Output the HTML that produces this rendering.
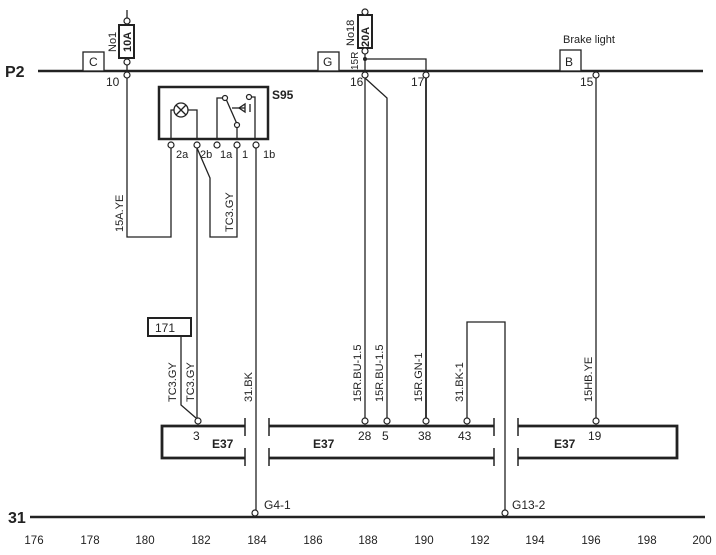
<!DOCTYPE html>
<html><head><style>
html,body{margin:0;padding:0;background:#fff;}
svg{display:block;font-family:"Liberation Sans",Arial,sans-serif;}
</style></head><body>
<svg width="716" height="555" viewBox="0 0 716 555" xmlns="http://www.w3.org/2000/svg">
<g stroke="#222" fill="none" stroke-width="1.3">
<line x1="38" y1="71" x2="703" y2="71" stroke-width="2.5"/>
<line x1="30" y1="517" x2="705" y2="517" stroke-width="2.5"/>
<rect x="83" y="52" width="21" height="19" fill="#fff"/>
<rect x="318" y="52" width="21" height="19" fill="#fff"/>
<rect x="560" y="50" width="21" height="21" fill="#fff"/>
<line x1="127" y1="10" x2="127" y2="25"/>
<rect x="119" y="25" width="15" height="33" stroke-width="2"/>
<line x1="127" y1="58" x2="127" y2="71"/>
<line x1="365" y1="10" x2="365" y2="15"/>
<rect x="358" y="15" width="14" height="33" stroke-width="2"/>
<line x1="365" y1="48" x2="365" y2="71"/>
<polyline points="365,59 426,59 426,71"/>
<polyline points="127,77 127,237 171,237 171,148"/>
<rect x="159" y="87" width="109" height="52" stroke-width="2.5"/>
<circle cx="181" cy="110" r="7"/>
<line x1="176" y1="105" x2="186" y2="115"/><line x1="186" y1="105" x2="176" y2="115"/>
<polyline points="171,139 171,110 174,110"/><polyline points="197,139 197,110 188,110"/>
<polyline points="217,139 217,98 225,98"/>
<line x1="226" y1="99" x2="237" y2="124"/>
<line x1="237" y1="127" x2="237" y2="139"/>
<polyline points="249,97 255,97 255,139"/>
<line x1="232" y1="108" x2="245" y2="108"/><polygon points="245,104 245,112 239,108"/><line x1="250" y1="104" x2="250" y2="112"/>
<line x1="197" y1="148" x2="197" y2="418"/>
<polyline points="197,148 210,178 210,237 237,237 237,148"/>
<line x1="256" y1="148" x2="256" y2="513"/>
<rect x="148" y="318" width="43" height="18" stroke-width="2"/>
<polyline points="181,336 181,405 196,418"/>
<line x1="365" y1="78" x2="365" y2="418"/>
<polyline points="365,78 387,98 387,418"/>
<line x1="426" y1="78" x2="426" y2="418" stroke-width="1.8"/>
<line x1="596" y1="78" x2="596" y2="418"/>
<polyline points="467,418 467,322 505,322 505,513"/>
<polyline points="245,426 162,426 162,458 245,458" stroke-width="2.8"/>
<line x1="245" y1="418" x2="245" y2="436" stroke-width="1.5"/><line x1="245" y1="448" x2="245" y2="466" stroke-width="1.5"/>
<line x1="269" y1="426" x2="494" y2="426" stroke-width="2.8"/>
<line x1="269" y1="458" x2="494" y2="458" stroke-width="2.8"/>
<line x1="269" y1="418" x2="269" y2="436" stroke-width="1.5"/><line x1="269" y1="448" x2="269" y2="466" stroke-width="1.5"/>
<line x1="494" y1="418" x2="494" y2="436" stroke-width="1.5"/><line x1="494" y1="448" x2="494" y2="466" stroke-width="1.5"/>
<polyline points="518,426 677,426 677,458 518,458" stroke-width="2.8"/>
<line x1="518" y1="418" x2="518" y2="436" stroke-width="1.5"/><line x1="518" y1="448" x2="518" y2="466" stroke-width="1.5"/>
</g>
<g stroke="#222" fill="#fff" stroke-width="1.2">
<circle cx="127" cy="21" r="3"/><circle cx="127" cy="62" r="3"/><circle cx="127" cy="75" r="3"/>
<circle cx="365" cy="12" r="3"/><circle cx="365" cy="51" r="3"/>
<circle cx="365" cy="75" r="3"/><circle cx="426" cy="75" r="3"/><circle cx="596" cy="75" r="3"/>
<circle cx="171" cy="145" r="3"/><circle cx="197" cy="145" r="3"/><circle cx="217" cy="145" r="3"/><circle cx="237" cy="145" r="3"/><circle cx="256" cy="145" r="3"/>
<circle cx="225" cy="98" r="2.5"/><circle cx="237" cy="125" r="2.5"/><circle cx="249" cy="97" r="2.5"/>
<circle cx="198" cy="421" r="3"/><circle cx="365" cy="421" r="3"/><circle cx="387" cy="421" r="3"/><circle cx="426" cy="421" r="3"/><circle cx="467" cy="421" r="3"/><circle cx="596" cy="421" r="3"/>
<circle cx="255" cy="513" r="3"/><circle cx="505" cy="513" r="3"/>
</g>
<circle cx="365" cy="59" r="2" fill="#222"/>
<g fill="#222" font-size="12">
<text x="5" y="77" font-size="16" font-weight="bold">P2</text>
<text x="8" y="523" font-size="16" font-weight="bold">31</text>
<text x="89" y="66">C</text><text x="323" y="66">G</text><text x="565" y="66">B</text>
<text x="563" y="43" font-size="11">Brake light</text>
<text x="106" y="86">10</text><text x="350" y="86">16</text><text x="411" y="86">17</text><text x="580" y="86">15</text>
<text x="272" y="99" font-weight="bold">S95</text>
<g font-size="11"><text x="176" y="158">2a</text><text x="200" y="158">2b</text><text x="220" y="158">1a</text><text x="242" y="158">1</text><text x="263" y="158">1b</text></g>
<text x="155" y="332">171</text>
<text x="193" y="440">3</text><text x="212" y="448" font-weight="bold">E37</text>
<text x="313" y="448" font-weight="bold">E37</text>
<text x="358" y="440">28</text><text x="382" y="440">5</text><text x="418" y="440">38</text><text x="458" y="440">43</text>
<text x="554" y="448" font-weight="bold">E37</text><text x="588" y="440">19</text>
<text x="264" y="509">G4-1</text><text x="512" y="509">G13-2</text>
<g font-size="11.5" text-anchor="middle">
<text x="34" y="544">176</text><text x="90" y="544">178</text><text x="145" y="544">180</text><text x="201" y="544">182</text><text x="257" y="544">184</text><text x="313" y="544">186</text><text x="368" y="544">188</text><text x="424" y="544">190</text><text x="480" y="544">192</text><text x="535" y="544">194</text><text x="591" y="544">196</text><text x="647" y="544">198</text><text x="702" y="544">200</text>
</g>
<g font-size="11">
<text transform="translate(116,52) rotate(-90)">No1</text>
<text transform="translate(131,52) rotate(-90)" font-weight="bold">10A</text>
<text transform="translate(354,46) rotate(-90)">No18</text>
<text transform="translate(369,47) rotate(-90)" font-weight="bold">20A</text>
<text transform="translate(358,70) rotate(-90)" font-size="10">15R</text>
<text transform="translate(123,232) rotate(-90)">15A.YE</text>
<text transform="translate(233,232) rotate(-90)">TC3.GY</text>
<text transform="translate(176,402) rotate(-90)">TC3.GY</text>
<text transform="translate(194,402) rotate(-90)">TC3.GY</text>
<text transform="translate(252,402) rotate(-90)">31.BK</text>
<text transform="translate(361,402) rotate(-90)">15R.BU-1.5</text>
<text transform="translate(383,402) rotate(-90)">15R.BU-1.5</text>
<text transform="translate(422,402) rotate(-90)">15R.GN-1</text>
<text transform="translate(463,402) rotate(-90)">31.BK-1</text>
<text transform="translate(592,402) rotate(-90)">15HB.YE</text>
</g>
</g>
</svg>
</body></html>
